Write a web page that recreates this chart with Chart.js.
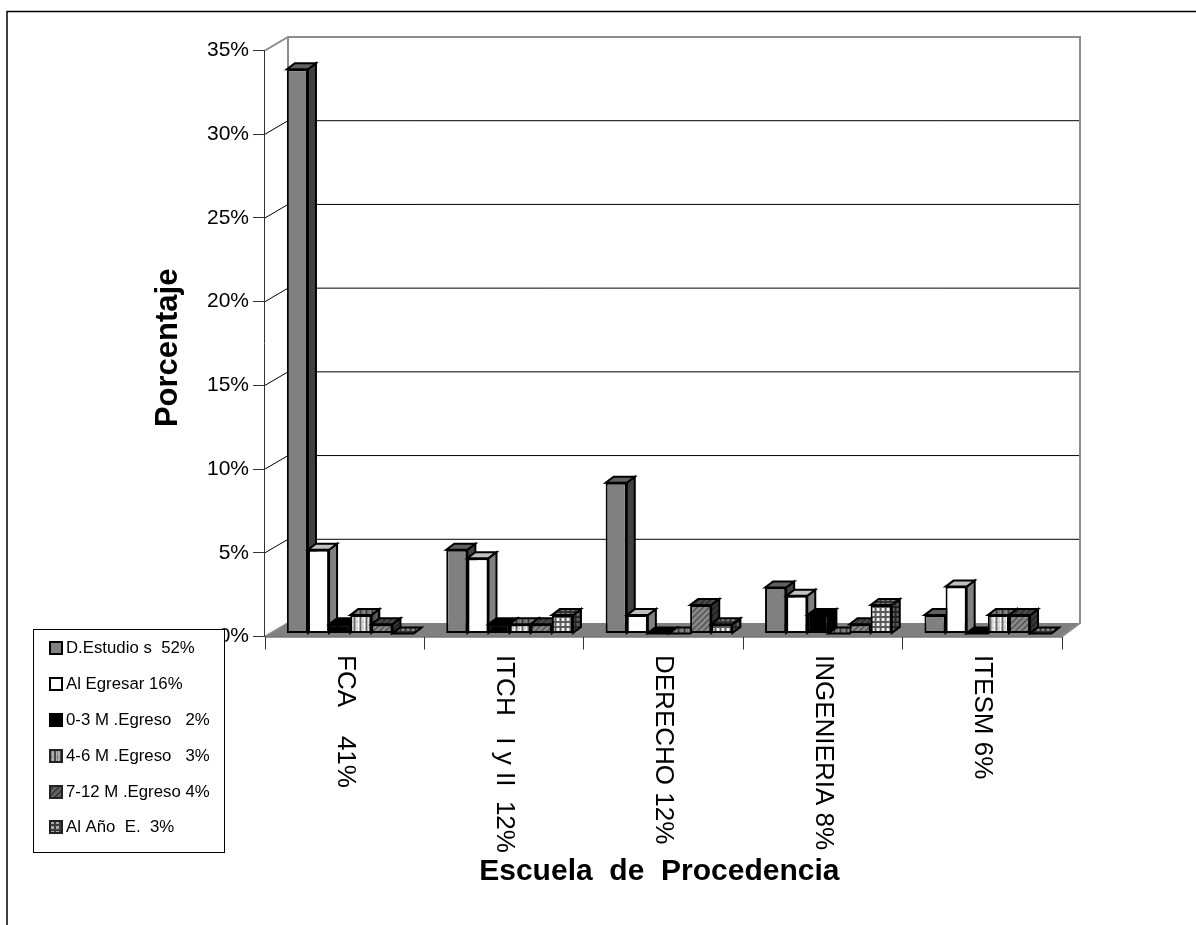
<!DOCTYPE html>
<html><head><meta charset="utf-8">
<style>html,body{margin:0;padding:0;background:#fff}#w{position:relative;width:1196px;height:925px}canvas{display:block}</style>
<script src="https://cdn.jsdelivr.net/npm/chart.js@4"></script></head>
<body><div id="w"><canvas id="c" width="1196" height="925"></canvas></div>
<script>
const categories = ["FCA    41%", "ITCH   I y II  12%", "DERECHO 12%", "INGENIERIA 8%", "ITESM 6%"];
const seriesLabels = ["D.Estudio s  52%", "Al Egresar 16%", "0-3 M .Egreso   2%", "4-6 M .Egreso   3%", "7-12 M .Egreso 4%", "Al A\u00f1o  E.  3%"];
const dEstudios = [33.7, 5.0, 9.0, 2.75, 1.1];
const alEgresar = [5.0, 4.5, 1.1, 2.25, 2.8];
const m0a3 = [0.55, 0.55, 0, 1.1, 0];
const m4a6 = [1.1, 0.55, 0, 0, 1.1];
const m7a12 = [0.55, 0.55, 1.7, 0.55, 1.1];
const alAnio = [0, 1.1, 0.55, 1.7, 0];
const yTicks = [0, 5, 10, 15, 20, 25, 30, 35];
const seriesValues = [dEstudios, alEgresar, m0a3, m4a6, m7a12, alAnio];

const FONT = '"Liberation Sans", Arial, sans-serif';
const DX = 8, DY = 6, WX = 23, WY = 13.5, WR = 18, SHIFT_X = 5.5, SHIFT_Y = -3;

function pat(size, fn){
  const c = document.createElement('canvas'); c.width = c.height = size;
  fn(c.getContext('2d'));
  return document.getElementById('c').getContext('2d').createPattern(c, 'repeat');
}
const plaid = () => pat(6, g => {
  g.fillStyle = '#fff'; g.fillRect(0,0,6,6);
  g.fillStyle = '#666'; g.fillRect(0,0,2,6);
  g.fillStyle = '#bdbdbd'; g.fillRect(3,0,1,6);
  g.fillStyle = 'rgba(110,110,110,.12)'; g.fillRect(0,0,6,2);
});
const hatch = () => pat(6, g => {
  g.fillStyle = '#8a8a8a'; g.fillRect(0,0,6,6);
  g.strokeStyle = '#404040'; g.lineWidth = 1.2;
  g.beginPath();
  g.moveTo(-1,7); g.lineTo(7,-1); g.moveTo(-4,4); g.lineTo(4,-4); g.moveTo(2,10); g.lineTo(10,2);
  g.stroke();
});
const dots = () => pat(5, g => {
  g.fillStyle = '#5a5a5a'; g.fillRect(0,0,5,5);
  g.fillStyle = '#f2f2f2'; g.fillRect(1,1,3,3);
});
const fills = ['#808080', '#ffffff', '#000000', plaid(), hatch(), dots()];
const sideFill = ['#404040', '#808080', '#000000', null, null, null];
const topFill = ['#606060', '#c0c0c0', '#000000', null, null, null];

function poly(ctx, pts, fill, overlay){
  ctx.beginPath();
  pts.forEach((p,i)=> i ? ctx.lineTo(p[0],p[1]) : ctx.moveTo(p[0],p[1]));
  ctx.closePath();
  ctx.fillStyle = fill; ctx.fill();
  if (overlay){ ctx.fillStyle = overlay; ctx.fill(); }
  ctx.lineWidth = 2; ctx.strokeStyle = '#000'; ctx.lineJoin = 'miter'; ctx.stroke();
}

const scene = {
  id: 'scene',
  beforeDatasetsDraw(chart){
    const ctx = chart.ctx, a = chart.chartArea, y = chart.scales.y;
    ctx.save();
    ctx.fillStyle = '#808080';
    ctx.beginPath();
    ctx.moveTo(a.left, a.bottom); ctx.lineTo(a.right, a.bottom);
    ctx.lineTo(a.right + WR, a.bottom - WY); ctx.lineTo(a.left + WX, a.bottom - WY);
    ctx.closePath(); ctx.fill();
    yTicks.forEach(t => {
      const py = y.getPixelForValue(t);
      if (t > 0 && t < 35){
        ctx.strokeStyle = '#000'; ctx.lineWidth = 1;
        ctx.beginPath(); ctx.moveTo(a.left, py); ctx.lineTo(a.left + WX, py - WY);
        ctx.lineTo(a.right + WR, py - WY); ctx.stroke();
      }
    });
    ctx.strokeStyle = '#8c8c8c'; ctx.lineWidth = 2;
    ctx.beginPath();
    ctx.moveTo(a.left, a.top); ctx.lineTo(a.left + WX, a.top - WY); ctx.lineTo(a.right + WR, a.top - WY);
    ctx.lineTo(a.right + WR, a.bottom - WY); ctx.lineTo(a.right, a.bottom);
    ctx.moveTo(a.left + WX, a.top - WY); ctx.lineTo(a.left + WX, a.bottom - WY);
    ctx.lineTo(a.left, a.bottom);
    ctx.stroke();
    ctx.strokeStyle = '#333'; ctx.lineWidth = 1;
    ctx.beginPath(); ctx.moveTo(a.left - .5, a.top); ctx.lineTo(a.left - .5, a.bottom);
    ctx.moveTo(a.left, a.bottom + .5); ctx.lineTo(a.right, a.bottom + .5); ctx.stroke();
    ctx.translate(SHIFT_X, SHIFT_Y);
    const n = categories.length;
    for (let i = 0; i < n; i++){
      seriesValues.forEach((_, d) => {
        const el = chart.getDatasetMeta(d).data[i];
        const w = el.width, l = el.x - w/2, r = el.x + w/2, t = Math.min(el.y, el.base), b = Math.max(el.y, el.base);
        const f = fills[d];
        poly(ctx, [[r,t],[r+DX,t-DY],[r+DX,b-DY],[r,b]], sideFill[d] || f, sideFill[d] ? null : 'rgba(0,0,0,.6)');
        poly(ctx, [[l,t],[l+DX,t-DY],[r+DX,t-DY],[r,t]], topFill[d] || f, topFill[d] ? null : 'rgba(0,0,0,.45)');
        if (b - t > 0.5) el.draw(ctx);
      });
    }
    ctx.restore();
    return false;
  },
  afterDraw(chart){
    const ctx = chart.ctx, x = chart.scales.x;
    ctx.save();
    ctx.fillStyle = '#000'; ctx.font = '26px ' + FONT;
    ctx.textAlign = 'left'; ctx.textBaseline = 'middle';
    categories.forEach((c, i) => {
      ctx.save();
      ctx.translate(x.getPixelForTick(i), 655);
      ctx.rotate(Math.PI / 2);
      ctx.fillText(c, 0, 0);
      ctx.restore();
    });
    ctx.fillStyle = '#fff'; ctx.strokeStyle = '#000'; ctx.lineWidth = 1;
    ctx.fillRect(33, 629, 192, 224);
    ctx.strokeRect(33.5, 629.5, 191, 223);
    const rows = [648, 684, 720, 756, 792, 827];
    ctx.font = '16.8px ' + FONT;
    seriesLabels.forEach((s, i) => {
      ctx.fillStyle = fills[i]; ctx.fillRect(50, rows[i]-6, 12, 12);
      if (i >= 3){ ctx.fillStyle = 'rgba(0,0,0,.3)'; ctx.fillRect(50, rows[i]-6, 12, 12); }
      ctx.strokeStyle = i >= 3 ? '#222' : '#000'; ctx.lineWidth = 2; ctx.strokeRect(50, rows[i]-6, 12, 12);
      ctx.fillStyle = '#000'; ctx.fillText(s, 66, rows[i]);
    });
    ctx.strokeStyle = '#000'; ctx.lineWidth = 1.5;
    ctx.beginPath(); ctx.moveTo(7, 925); ctx.lineTo(7, 11.5); ctx.lineTo(1196, 11.5); ctx.stroke();
    ctx.restore();
  }
};

new Chart(document.getElementById('c'), {
  type: 'bar',
  data: {
    labels: categories,
    datasets: seriesValues.map((v, i) => ({
      label: seriesLabels[i], data: v, backgroundColor: fills[i],
      borderColor: '#000', borderWidth: 2, borderSkipped: false,
      barPercentage: 1, categoryPercentage: 0.795
    }))
  },
  options: {
    responsive: false, animation: false,
    layout: { padding: { left: 150, top: 50.5, right: 134, bottom: 35.5 } },
    plugins: { legend: { display: false }, tooltip: { enabled: false } },
    scales: {
      x: {
        grid: { drawOnChartArea: false, drawTicks: true, tickLength: 13, color: '#333', offset: true },
        border: { display: false },
        ticks: { display: false },
        title: { display: true, text: 'Escuela  de  Procedencia ', color: '#000', font: { family: FONT, size: 30, weight: 'bold' }, padding: 0 },
        afterFit(s){ s.height = 253; }
      },
      y: {
        min: 0, max: 35,
        afterBuildTicks(s){ s.ticks = yTicks.map(v => ({ value: v })); },
        grid: { drawOnChartArea: false, drawTicks: true, tickLength: 12, color: '#333' },
        border: { display: false },
        ticks: { color: '#000', padding: 4, font: { family: FONT, size: 21 }, callback: v => v + '%' },
        title: { display: true, text: 'Porcentaje ', color: '#000', font: { family: FONT, size: 31, weight: 'bold' }, padding: 0 },
        afterFit(s){ s.width = 115; }
      }
    }
  },
  plugins: [scene]
});
</script></body></html>
